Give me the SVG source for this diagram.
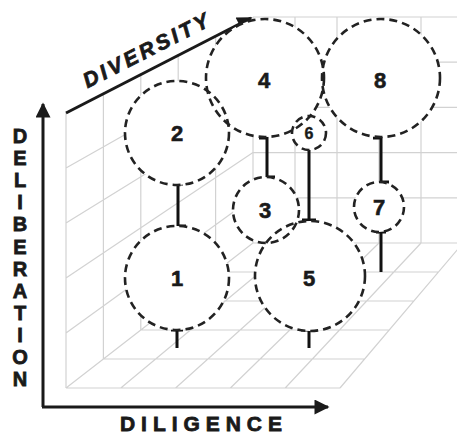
<svg xmlns="http://www.w3.org/2000/svg" width="457" height="436" viewBox="0 0 457 436">
<defs>
<style>
.grid{stroke:#d2d2d2;stroke-width:1.2;fill:none}
.axis{stroke:#1a1a1a;stroke-width:3;fill:none}
.ring{fill:none;stroke:#222;stroke-width:2.6;stroke-dasharray:8 5}
.back{fill:#fff;stroke:none}
.stem{stroke:#111;stroke-width:3;fill:none;stroke-linecap:butt}
.lbl{font-family:"Liberation Sans",Arial,sans-serif;font-weight:bold;font-size:22px;fill:#1a1a1a;stroke:#1a1a1a;stroke-width:0.6;text-anchor:middle}
.axt{font-family:"Liberation Sans",Arial,sans-serif;font-weight:bold;font-size:20px;fill:#1a1a1a;stroke:#1a1a1a;stroke-width:0.8;text-anchor:middle}
</style>
<marker id="ah" viewBox="0 0 10 10" refX="9" refY="5" markerWidth="5.5" markerHeight="5" orient="auto" markerUnits="strokeWidth">
<path d="M0,0 L10,5 L0,10 Z" fill="#1a1a1a"/>
</marker>
</defs>
<rect width="457" height="436" fill="#fff"/>
<g id="grid">
<path class="grid" d="M253,17 H463 M253,62.2 H463 M253,107.4 H463 M253,152.6 H463 M253,197.8 H463 M253,243 H463 M253,17 V243 M295,17 V243 M337,17 V243 M379,17 V243 M421,17 V243"/>
<path class="grid" d="M66,113 V388 M103.4,93.8 V359 M140.8,74.6 V330 M178.2,55.4 V301 M215.6,36.2 V272 M66,168 L253,62.2 M66,223 L253,107.4 M66,278 L253,152.6 M66,333 L253,197.8"/>
<path class="grid" d="M66,388 H340 M103.4,359 H364.6 M140.8,330 H389.2 M178.2,301 H413.8 M215.6,272 H438.4 M66,388 L253,243 M120.8,388 L295,243 M175.6,388 L337,243 M230.4,388 L379,243 M285.2,388 L421,243 M340,388 L463,243"/>
</g>
<g id="connectors">
<path class="axis" d="M43,407 V104" marker-end="url(#ah)"/>
<path class="axis" d="M42,407 H328" marker-end="url(#ah)"/>
<path class="axis" d="M66,113 L251,18" marker-end="url(#ah)"/>
<path class="stem" d="M173,184 H183 M178,184 V226 H186"/>
<path class="stem" d="M171,330 H183 M177,330 V348"/>
<path class="stem" d="M259,138 H267 V177 H275"/>
<path class="stem" d="M309,150 V220 M302,220 H316"/>
<path class="stem" d="M373,138 H381 V182 H389"/>
<path class="stem" d="M376,232 H386 M381,232 V272"/>
<path class="stem" d="M301,330 H317 M309,330 V348"/>
</g>
<g id="node-backs">
<circle class="back" cx="177" cy="278" r="52"/>
<circle class="back" cx="177" cy="133" r="52"/>
<circle class="back" cx="266" cy="210" r="33"/>
<circle class="back" cx="265" cy="78" r="59"/>
<circle class="back" cx="310" cy="276" r="55"/>
<circle class="back" cx="381" cy="78" r="59"/>
<circle class="back" cx="309" cy="133" r="17"/>
<circle class="back" cx="379" cy="207" r="25"/>
</g>
<g id="node-1"><circle class="ring" cx="177" cy="278" r="52"/><text class="lbl" x="177" y="286">1</text></g>
<g id="node-2"><circle class="ring" cx="177" cy="133" r="52"/><text class="lbl" x="177" y="141">2</text></g>
<g id="node-3"><circle class="ring" cx="266" cy="210" r="33"/><text class="lbl" x="265" y="218">3</text></g>
<g id="node-4"><circle class="ring" cx="265" cy="78" r="59"/><text class="lbl" x="264" y="88">4</text></g>
<g id="node-5"><circle class="ring" cx="310" cy="276" r="55"/><text class="lbl" x="309" y="286">5</text></g>
<g id="node-6"><circle class="ring" cx="309" cy="133" r="17"/><text class="lbl" x="309" y="139" style="font-size:16px;stroke-width:0.4">6</text></g>
<g id="node-7"><circle class="ring" cx="379" cy="207" r="25"/><text class="lbl" x="379" y="215">7</text></g>
<g id="node-8"><circle class="ring" cx="381" cy="78" r="59"/><text class="lbl" x="380" y="88">8</text></g>
<g id="labels">
<text class="axt" x="201" y="431" textLength="162" lengthAdjust="spacing" style="font-size:21px">DILIGENCE</text>
<text class="axt" transform="translate(149,57) rotate(-27)" x="0" y="0" textLength="138" lengthAdjust="spacing" style="font-style:italic;font-size:21px">DIVERSITY</text>
<text class="axt" x="20" y="143">D</text>
<text class="axt" x="20" y="165.1">E</text>
<text class="axt" x="20" y="187.2">L</text>
<text class="axt" x="20" y="209.3">I</text>
<text class="axt" x="20" y="231.4">B</text>
<text class="axt" x="20" y="253.5">E</text>
<text class="axt" x="20" y="275.6">R</text>
<text class="axt" x="20" y="297.7">A</text>
<text class="axt" x="20" y="319.8">T</text>
<text class="axt" x="20" y="341.9">I</text>
<text class="axt" x="20" y="364">O</text>
<text class="axt" x="20" y="386">N</text>
</g>
</svg>
